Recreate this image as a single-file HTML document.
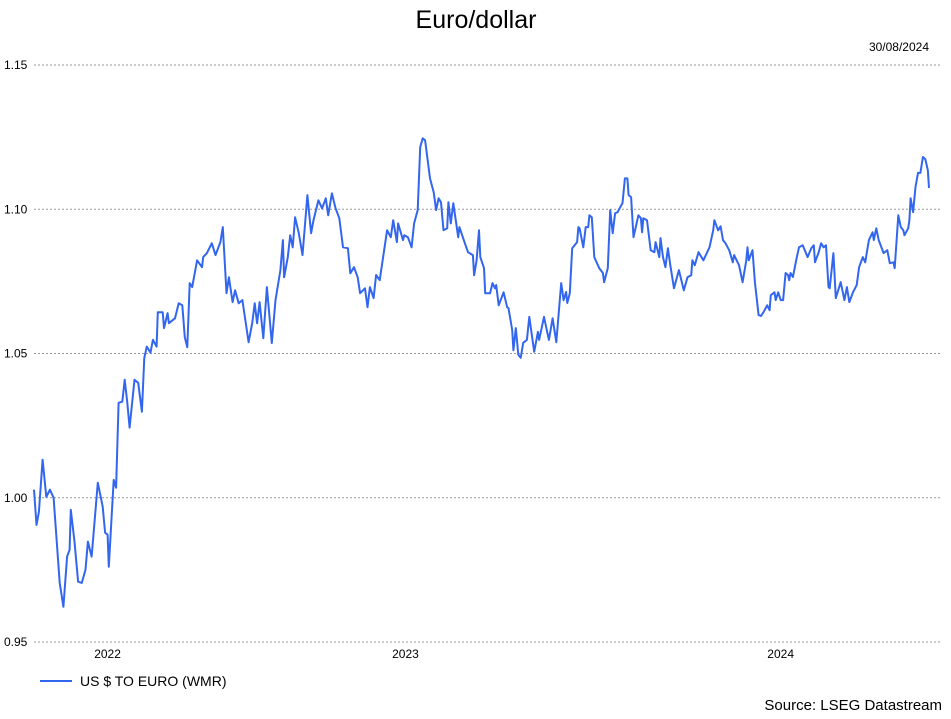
<!DOCTYPE html>
<html><head><meta charset="utf-8"><style>
html,body{margin:0;padding:0;background:#fff;}
body{width:951px;height:714px;overflow:hidden;font-family:"Liberation Sans",sans-serif;}
</style></head><body>
<svg id="chart" width="951" height="714" xmlns="http://www.w3.org/2000/svg" font-family="Liberation Sans, sans-serif">
<text x="476" y="28" text-anchor="middle" font-size="25" fill="#000">Euro/dollar</text>
<text x="929" y="51" text-anchor="end" font-size="12" fill="#000">30/08/2024</text>
<g id="grid"></g>
<g id="xaxis"></g>
<g id="series"></g>
<g>
<line x1="40" y1="681" x2="72" y2="681" stroke="#3366ee" stroke-width="2"/>
<text x="80" y="686" font-size="14" fill="#000">US $ TO EURO (WMR)</text>
</g>
<text x="942" y="710" text-anchor="end" font-size="15" fill="#000">Source: LSEG Datastream</text>
</svg>
<script>
const days=[0,2,4,7,10,13,16,18,21,24,27,29,30,33,36,39,42,44,47,48,52,56,58,60,61,65,67,69,72,74,76,78,82,85,88,90,92,95,97,100,101,105,106,109,110,115,118,121,123,125,127,129,133,137,138,141,145,148,152,154,157,159,162,164,167,170,172,175,178,180,182,184,187,190,194,197,201,203,204,207,209,211,213,216,219,223,226,228,232,235,238,240,243,246,249,252,256,258,261,264,266,270,272,274,277,279,282,288,291,293,296,297,301,302,305,308,310,313,315,317,319,323,326,328,330,332,334,337,338,340,342,346,347,350,352,354,358,359,361,363,364,367,368,372,374,376,377,379,383,386,387,390,391,393,395,397,399,402,404,408,411,412,416,420,423,426,430,432,434,435,437,439,443,444,445,448,450,452,453,455,457,461,464,465,468,470,472,474,476,479,480,482,484,485,487,489,493,495,496,497,500,503,506,507,510,511,513,515,517,519,522,526,530,533,536,537,539,542,546,551,554,555,558,560,562,564,567,570,571,575,578,581,582,583,586,588,591,593,595,598,600,601,604,605,607,609,611,613,615,616,617,619,622,624,627,631,634,636,637,640,642,644,646,648,649,652,654,658,661,663,665,668,671,673,676,678,681,684,685,687,689,693,696,698,701,702,705,707,709,710,713,714,715,717,719,721,723,725,727,729,730];
const rates=[1.0028,0.9906,0.9951,1.0132,1.0003,1.0028,1.0000,0.9879,0.9705,0.9622,0.9796,0.9820,0.9958,0.9848,0.9709,0.9705,0.9751,0.9848,0.9796,0.9844,1.0052,0.9969,0.9879,0.9872,0.9761,1.0062,1.0035,1.0329,1.0333,1.0409,1.0333,1.0243,1.0409,1.0398,1.0298,1.0485,1.0524,1.0503,1.0547,1.0524,1.0643,1.0643,1.0588,1.0640,1.0605,1.0622,1.0674,1.0667,1.0556,1.0522,1.0744,1.0730,1.0823,1.0799,1.0834,1.0848,1.0882,1.0841,1.0886,1.0938,1.0709,1.0764,1.0678,1.0719,1.0674,1.0685,1.0626,1.0539,1.0605,1.0674,1.0605,1.0678,1.0553,1.0730,1.0536,1.0685,1.0789,1.0893,1.0764,1.0834,1.0910,1.0868,1.0972,1.0917,1.0841,1.1049,1.0917,1.0962,1.1031,1.1003,1.1038,1.0979,1.1055,1.1003,1.0969,1.0868,1.0865,1.0778,1.0799,1.0764,1.0709,1.0726,1.0660,1.0730,1.0692,1.0772,1.0754,1.0927,1.0903,1.0962,1.0886,1.0951,1.0893,1.0910,1.0903,1.0868,1.0951,1.0997,1.1215,1.1246,1.1239,1.1107,1.1059,1.0997,1.1038,1.1024,1.0927,1.0934,1.1024,1.0951,1.1021,1.0903,1.0938,1.0900,1.0875,1.0851,1.0841,1.0771,1.0823,1.0927,1.0834,1.0796,1.0709,1.0709,1.0744,1.0726,1.0737,1.0667,1.0712,1.0660,1.0657,1.0581,1.0511,1.0588,1.0496,1.0485,1.0537,1.0547,1.0627,1.0506,1.0575,1.0547,1.0627,1.0547,1.0622,1.0539,1.0744,1.0685,1.0713,1.0675,1.0709,1.0865,1.0886,1.0938,1.0934,1.0868,1.0938,1.0938,1.0979,1.0972,1.0834,1.0796,1.0779,1.0747,1.0796,1.0997,1.0917,1.0986,1.0990,1.1014,1.1021,1.1107,1.1107,1.1049,1.1042,1.0903,1.0979,1.0969,1.0920,1.0969,1.0962,1.0858,1.0851,1.0886,1.0834,1.0900,1.0834,1.0799,1.0865,1.0806,1.0726,1.0789,1.0719,1.0764,1.0771,1.0823,1.0806,1.0851,1.0823,1.0868,1.0927,1.0962,1.0927,1.0941,1.0893,1.0882,1.0858,1.0816,1.0841,1.0806,1.0747,1.0823,1.0868,1.0823,1.0858,1.0747,1.0633,1.0630,1.0643,1.0667,1.0650,1.0702,1.0712,1.0685,1.0712,1.0685,1.0685,1.0779,1.0772,1.0754,1.0779,1.0765,1.0830,1.0868,1.0875,1.0834,1.0865,1.0875,1.0816,1.0851,1.0882,1.0868,1.0875,1.0730,1.0726,1.0848,1.0692,1.0747,1.0685,1.0730,1.0678,1.0712,1.0737,1.0799,1.0834,1.0816,1.0893,1.0920,1.0893,1.0934,1.0893,1.0848,1.0858,1.0813,1.0816,1.0796,1.0979,1.0938,1.0927,1.0910,1.0934,1.0962,1.1038,1.0990,1.1077,1.1126,1.1126,1.1181,1.1174,1.1136,1.1074];
const yTicks=[0.95,1.00,1.05,1.10,1.15];
const yTickLabels=["0.95","1.00","1.05","1.10","1.15"];
const xTickDays=[60,303,609];
const xTickLabels=["2022","2023","2024"];

const NS="http://www.w3.org/2000/svg";
const X0=34,X1=929,D0=0,D1=730;
const Y0=642,Y1=65,V0=0.95,V1=1.15;
function xs(d){return X0+(d-D0)/(D1-D0)*(X1-X0);}
function ys(v){return Y0+(v-V0)/(V1-V0)*(Y1-Y0);}

const grid=document.getElementById('grid');
yTicks.forEach((t,i)=>{
  const ln=document.createElementNS(NS,'line');
  
  
  ln.setAttribute('x1',34);ln.setAttribute('x2',942);
  ln.setAttribute('y1',ys(t));ln.setAttribute('y2',ys(t));
  ln.setAttribute('stroke','#999');ln.setAttribute('stroke-width','1');
  ln.setAttribute('stroke-dasharray','2,2');
  grid.appendChild(ln);
  const tx=document.createElementNS(NS,'text');
  
  
  tx.setAttribute('x',4);tx.setAttribute('y',ys(t)+4);
  tx.setAttribute('font-size','12');tx.setAttribute('fill','#000');
  tx.textContent=yTickLabels[i];
  grid.appendChild(tx);
});
const xa=document.getElementById('xaxis');
xTickDays.forEach((d,i)=>{
  const tx=document.createElementNS(NS,'text');
  
  
  tx.setAttribute('x',xs(d));tx.setAttribute('y',658);
  tx.setAttribute('text-anchor','middle');
  tx.setAttribute('font-size','12');tx.setAttribute('fill','#000');
  tx.textContent=xTickLabels[i];
  xa.appendChild(tx);
});
const p=document.createElementNS(NS,'path');


p.setAttribute('d',days.map((d,i)=>(i?'L':'M')+xs(d).toFixed(1)+','+ys(rates[i]).toFixed(1)).join(''));
p.setAttribute('fill','none');p.setAttribute('stroke','#3366ee');
p.setAttribute('stroke-width','2');p.setAttribute('stroke-linejoin','round');
document.getElementById('series').appendChild(p);
</script>
</body></html>
